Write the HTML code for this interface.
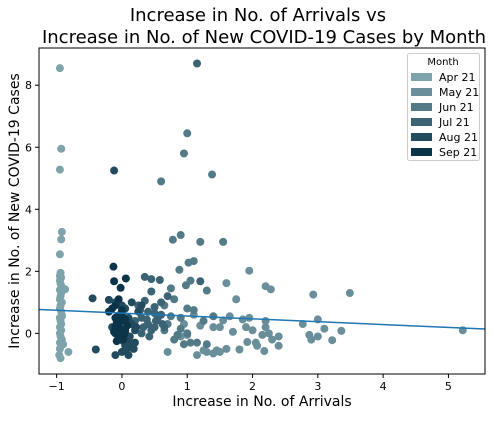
<!DOCTYPE html>
<html><head><meta charset="utf-8">
<style>
body{margin:0;background:#fff;font-family:"Liberation Sans","DejaVu Sans",sans-serif;}
svg text{font-family:"DejaVu Sans","Liberation Sans",sans-serif;}
</style></head>
<body>
<svg id="chart" width="494" height="416" xmlns="http://www.w3.org/2000/svg">
<rect width="494" height="416" fill="#fff"/>
<text x="258" y="21" text-anchor="middle" font-size="18" fill="#000">Increase in No. of Arrivals vs</text>
<text x="264" y="43" text-anchor="middle" font-size="18" fill="#000">Increase in No. of New COVID-19 Cases by Month</text>
<g id="points"></g>
<g id="axes"></g>
<text x="262" y="406" text-anchor="middle" font-size="14">Increase in No. of Arrivals</text>
<text transform="translate(19,211) rotate(-90)" text-anchor="middle" font-size="14">Increase in No. of New COVID-19 Cases</text>
<g id="legend"></g>
</svg>
<script>
const months=["Apr 21","May 21","Jun 21","Jul 21","Aug 21","Sep 21"];
const colors=["#7fa3ab","#6a8f9b","#527a87","#3b6373","#224c5e","#0b3448"];
const aprX=[-0.95,-0.93,-0.95,-0.92,-0.93,-0.95,-0.94,-0.95,-0.93,-0.95,-0.94,-0.92,-0.95,-0.93,-0.94,-0.95,-0.92,-0.94,-0.95,-0.93,-0.92,-0.95,-0.94,-0.93,-0.95,-0.93,-0.95,-0.94,-0.92,-0.95,-0.93,-0.95,-0.96,-0.94,-0.82,-0.87,-0.92,-0.9];
const aprY=[8.55,5.95,5.28,3.27,3.03,2.55,1.95,1.85,1.8,1.7,1.6,1.5,1.4,1.3,1.2,1.1,1.0,0.9,0.8,0.7,0.6,0.5,0.4,0.3,0.2,0.1,0.0,-0.1,-0.2,-0.3,-0.4,-0.5,-0.7,-0.8,-0.6,1.42,0.55,-0.35];
const mayX=[1.95,2.2,2.28,2.93,3.49,1.95,2.2,3.0,2.2,2.77,1.9,2.0,3.1,3.36,2.87,2.15,2.25,2.4,2.9,3.0,3.22,2.3,1.92,2.05,2.07,2.4,2.18,5.22,1.8,1.6,1.5,1.4,1.3,1.25,1.7,1.5,1.4,1.2,1.1,1.55,1.6,1.75,1.65,0.9,1.0,0.7,0.95,1.15,1.85,1.45];
const mayY=[2.02,1.52,1.42,1.25,1.3,0.5,0.4,0.45,0.2,0.3,0.2,0.1,0.15,0.08,-0.05,-0.05,0.0,-0.1,-0.2,-0.1,-0.22,-0.2,-0.28,-0.3,-0.4,-0.4,-0.57,0.1,-0.52,-0.5,-0.6,-0.65,-0.6,-0.55,0.05,0.2,0.2,0.25,0.6,0.42,1.62,1.1,0.55,-0.1,-0.05,-0.6,0.3,-0.7,0.45,-0.55];
const junX=[1.0,0.95,1.38,0.6,0.9,0.78,1.2,1.55,1.02,1.1,0.88,1.3,0.98,1.05,0.75,0.8,1.1,1.0,0.9,1.25,1.4,0.95,1.05,0.8,0.85,0.7,0.65,0.65,1.0,1.15,0.75,0.9,1.3];
const junY=[6.45,5.8,5.12,4.9,3.17,3.02,2.95,2.95,2.28,2.33,2.05,1.38,1.55,1.7,1.45,1.1,0.75,0.8,0.5,0.4,0.55,-0.35,-0.3,-0.2,-0.05,0.3,0.1,0.9,0.0,-0.3,0.55,0.15,-0.35];
const julX=[1.15,0.35,0.45,0.58,0.3,0.4,0.5,0.45,0.6,0.55,0.4,0.5,0.3,0.2,0.7,1.2,0.62,0.45,0.35,0.6,0.25,0.5,0.38,0.28,0.65,0.42,0.52,0.33];
const julY=[8.7,1.82,1.75,1.72,0.5,0.7,0.85,1.35,0.6,0.5,0.3,0.2,0.0,0.4,1.2,1.68,0.3,0.1,1.05,1.0,0.9,0.65,0.45,0.75,0.2,-0.1,0.4,0.2];
const augX=[-0.12,-0.4,-0.45,-0.2,-0.1,0.0,0.05,0.1,0.15,0.2,0.1,0.05,0.0,0.1,-0.1,0.2,0.25,0.3,0.15,-0.15,0.05,0.12,0.08,0.18,0.02,0.14,-0.05,0.22,0.06];
const augY=[5.25,-0.52,1.13,1.08,1.0,0.9,0.8,0.5,0.3,0.1,-0.2,-0.4,-0.6,-0.7,-0.7,-0.3,0.7,0.9,1.0,0.2,0.0,-0.1,-0.3,-0.5,-0.25,-0.45,-0.15,0.2,-0.55];
const sepX=[-0.13,-0.12,0.06,-0.02,-0.05,-0.1,-0.15,0,-0.1,0,-0.05,-0.1,0.05,0,-0.1,-0.05,0.02,-0.08,0.05,-0.02,0.08,-0.2,-0.06,-0.12,0.03,-0.03,0.0,-0.08];
const sepY=[2.15,1.68,1.77,1.47,1.1,0.9,0.8,0.6,0.5,0.4,0.3,0.2,0.1,0,0.0,-0.1,-0.2,0.35,0.45,0.15,0.25,0.7,0.55,0.05,-0.05,0.6,0.75,-0.25];
const series=[[aprX,aprY],[mayX,mayY],[junX,junY],[julX,julY],[augX,augY],[sepX,sepY]];
const xTicks=[-1,0,1,2,3,4,5];
const yTicks=[0,2,4,6,8];
const regX=[-1.27,5.56];
const regY=[0.77,0.14];

const L=39,R=485,T=48,B=374,xmin=-1.27,xmax=5.56,ymin=-1.31,ymax=9.2;
const sx=v=>L+(v-xmin)/(xmax-xmin)*(R-L);
const sy=v=>B-(v-ymin)/(ymax-ymin)*(B-T);
const NS="http://www.w3.org/2000/svg";
function mk(tag,attrs,parent){const e=document.createElementNS(NS,tag);for(const k in attrs)e.setAttribute(k,attrs[k]);parent.appendChild(e);return e;}
const pts=document.getElementById('points');
series.forEach((s,i)=>{s[0].forEach((x,j)=>{
  const c=mk('circle',{cx:sx(x),cy:sy(s[1][j]),r:4,fill:colors[i]},pts);
  
  
});});
const reg=mk('line',{x1:sx(regX[0]),y1:sy(regY[0]),x2:sx(regX[1]),y2:sy(regY[1]),stroke:'#1f77b4','stroke-width':1.5},pts);


const ax=document.getElementById('axes');
const fr=mk('rect',{x:L,y:T,width:R-L,height:B-T,fill:'none',stroke:'#000','stroke-width':1},ax);


xTicks.forEach(t=>{const x=sx(t);mk('line',{x1:x,x2:x,y1:B,y2:B+4,stroke:'#000'},ax);
  const tx=mk('text',{x:x,y:B+16,'text-anchor':'middle','font-size':11},ax);tx.textContent=t<0?'\u2212'+(-t):t;
  
  });
yTicks.forEach(t=>{const y=sy(t);mk('line',{x1:L-4,x2:L,y1:y,y2:y,stroke:'#000'},ax);
  const tx=mk('text',{x:L-7,y:y+4,'text-anchor':'end','font-size':11},ax);tx.textContent=t;
  
  });
const lg=document.getElementById('legend');
mk('rect',{x:407.5,y:53.5,width:72,height:107,rx:2,fill:'#fff',stroke:'#ccc'},lg);
const lt=mk('text',{x:443,y:65,'text-anchor':'middle','font-size':10},lg);lt.textContent='Month';


months.forEach((m,i)=>{const y=73+i*15;
  const g=mk('g',{},lg);
  
  
  mk('rect',{x:411,y:y,width:21,height:8,fill:colors[i]},g);
  const t=mk('text',{x:439,y:y+8,'font-size':11},g);t.textContent=m;});
</script>
</body></html>
